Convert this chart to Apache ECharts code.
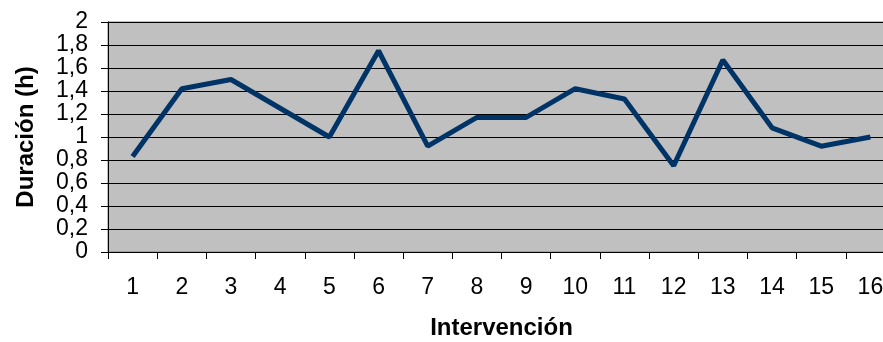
<!DOCTYPE html>
<html>
<head>
<meta charset="utf-8">
<script src="https://cdn.jsdelivr.net/npm/echarts@6/dist/echarts.min.js"></script>
<style>
  html, body { margin: 0; padding: 0; background: #fff; }
  #chart { width: 883px; height: 342px; }
</style>
</head>
<body>
<div id="chart"></div>
<script>
// intervenciones y su duración en horas
const intervenciones = ["1", "2", "3", "4", "5", "6", "7", "8", "9", "10", "11", "12", "13", "14", "15", "16"];
const duracion = [0.83, 1.42, 1.5, 1.25, 1.0, 1.75, 0.92, 1.17, 1.17, 1.42, 1.33, 0.75, 1.67, 1.08, 0.92, 1.0];

const font = "Liberation Sans";
const chart = echarts.init(document.getElementById("chart"));

chart.setOption({
  animation: false,
  grid: {
    left: 108,
    top: 22,
    width: 787, // el área sigue más allá del borde derecho
    bottom: 90,
    outerBoundsMode: "none",
    show: true,
    backgroundColor: "#C0C0C0",
    borderColor: "#808080",
    borderWidth: 1,
  },
  xAxis: {
    type: "category",
    data: intervenciones,
    boundaryGap: true,
    name: "Intervención",
    nameLocation: "middle",
    nameGap: 64,
    nameTextStyle: { fontFamily: font, fontSize: 24, fontWeight: "bold", color: "#000" },
    axisLine: { lineStyle: { color: "#000", width: 1 } },
    axisTick: { show: true, length: 7, lineStyle: { color: "#000" } },
    axisLabel: { margin: 24, fontFamily: font, fontSize: 23, color: "#000", interval: 0 },
    splitLine: { show: false },
  },
  yAxis: {
    type: "value",
    min: 0,
    max: 2,
    interval: 0.2,
    name: "Duración (h)",
    nameLocation: "middle",
    nameGap: 70,
    nameTextStyle: { fontFamily: font, fontSize: 24, fontWeight: "bold", color: "#000" },
    axisLine: { show: true, lineStyle: { color: "#000", width: 1 } },
    axisTick: { show: true, length: 7, lineStyle: { color: "#000" } },
    axisLabel: {
      margin: 20,
      fontFamily: font,
      fontSize: 23,
      lineHeight: 20,
      color: "#000",
      showMinLabel: true,
      showMaxLabel: true,
      hideOverlap: false,
      formatter: (v) => String(+v.toFixed(1)).replace(".", ","),
    },
    splitLine: { lineStyle: { color: "#000", width: 1 } },
  },
  series: [
    {
      type: "line",
      data: duracion,
      symbol: "none",
      lineStyle: { color: "#003366", width: 5 },
    },
  ],
});
</script>
</body>
</html>
